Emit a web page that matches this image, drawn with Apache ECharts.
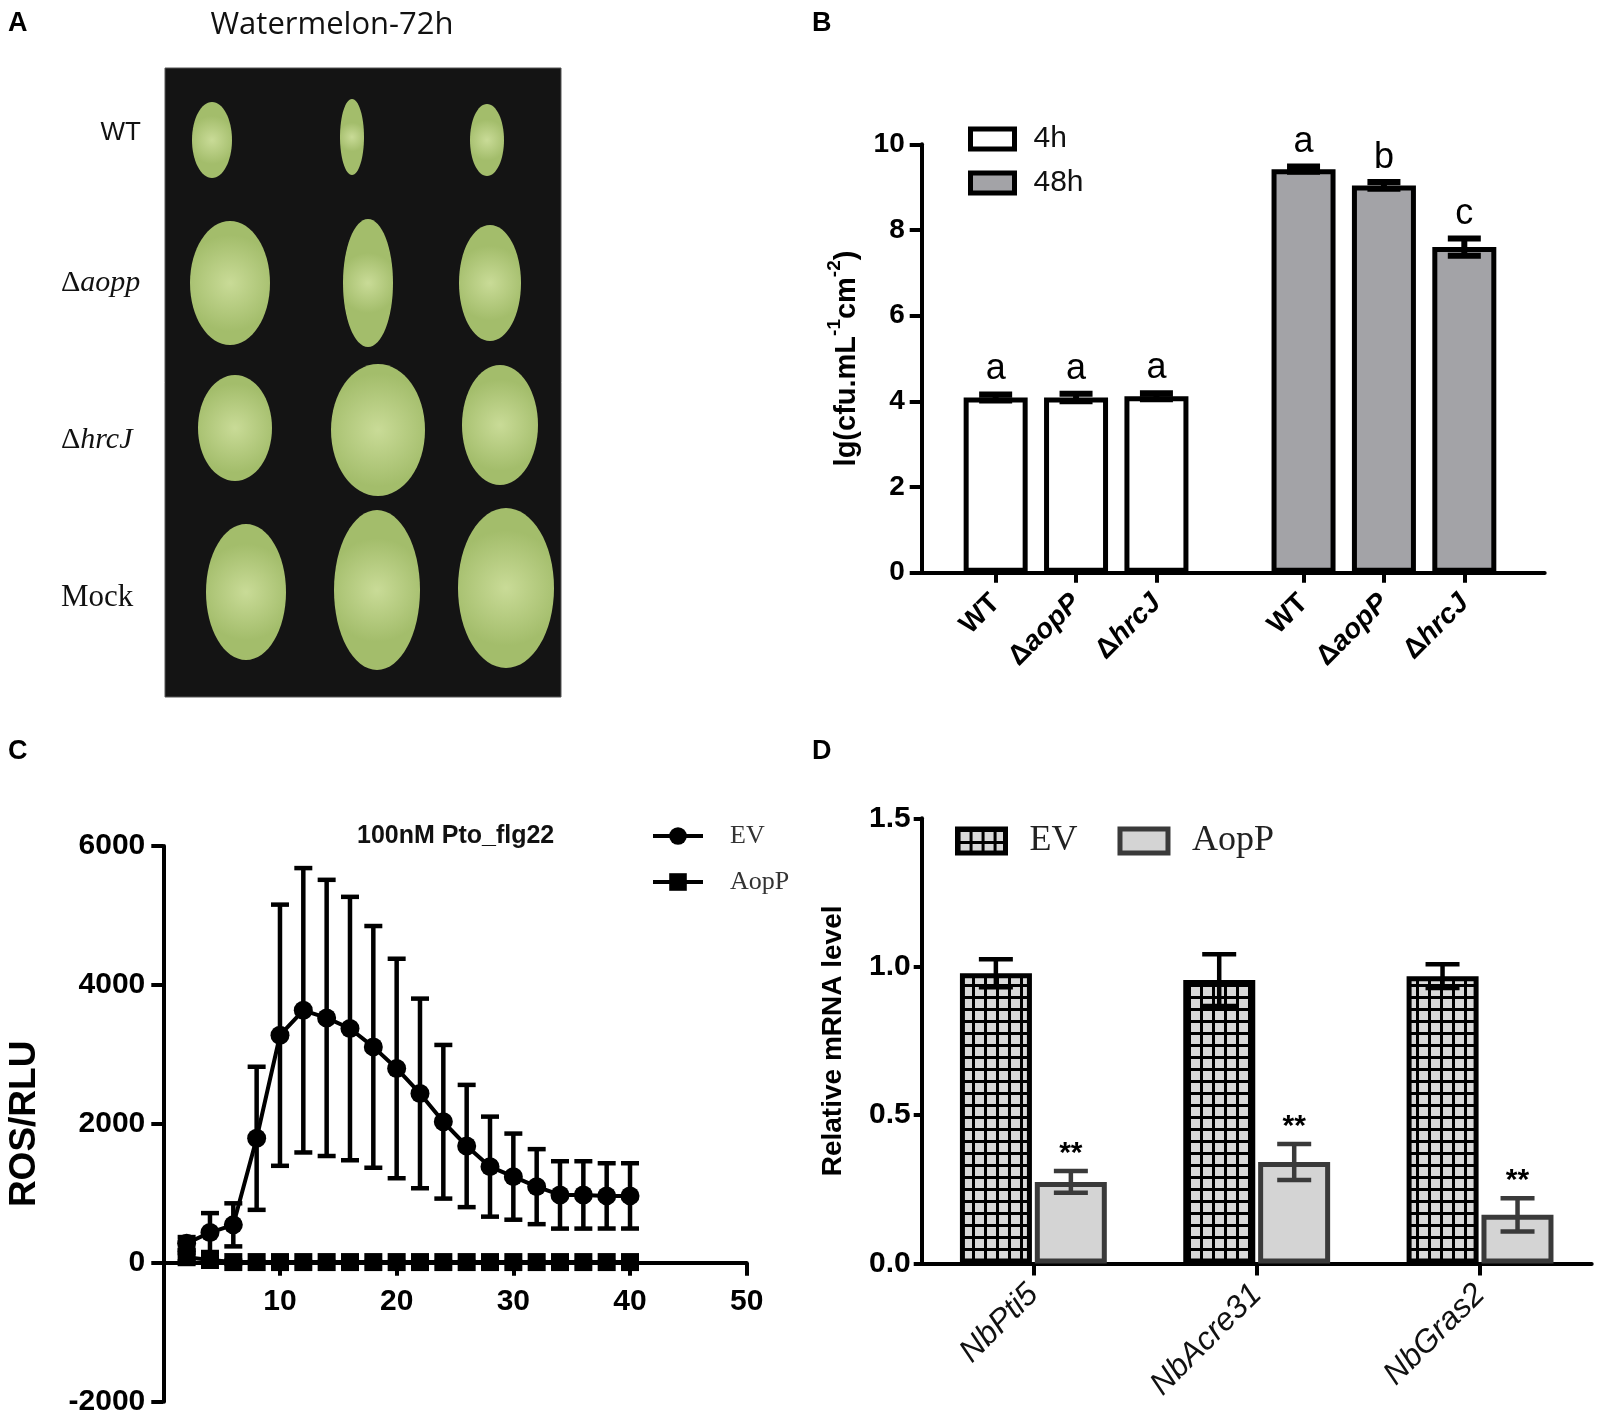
<!DOCTYPE html>
<html>
<head>
<meta charset="utf-8">
<script src="https://cdn.jsdelivr.net/npm/echarts@6/dist/echarts.min.js"></script>
<style>
html,body{margin:0;padding:0;background:#fff;}
#chart{width:1600px;height:1425px;}
</style>
</head>
<body>
<div id="chart"></div>
<script>
// ---------------- DATA ----------------
// Panel B
const bLabels = ['WT', 'ΔaopP', 'ΔhrcJ', 'WT', 'ΔaopP', 'ΔhrcJ'];
const bPositions = [0.92, 1.92, 2.92, 4.75, 5.75, 6.75];
const b4hValues = [4.09, 4.09, 4.12];
const b4hErrors = [0.07, 0.09, 0.07];
const b48hValues = [9.42, 9.04, 7.60];
const b48hErrors = [0.06, 0.08, 0.20];
const b4hLetters = ['a', 'a', 'a'];
const b48hLetters = ['a', 'b', 'c'];

// Panel C
const cTimes = [2, 4, 6, 8, 10, 12, 14, 16, 18, 20, 22, 24, 26, 28, 30, 32, 34, 36, 38, 40];
const cEV = [280, 435, 546, 1792, 3276, 3635, 3525, 3372, 3108, 2797, 2438, 2030, 1681, 1384, 1240, 1096, 977, 977, 963, 963];
const cEVErr = [90, 280, 310, 1030, 1880, 2047, 1988, 1896, 1740, 1580, 1365, 1106, 880, 720, 620, 540, 485, 485, 470, 470];
const cAopP = [80, 40, 10, 10, 10, 10, 10, 10, 10, 10, 10, 10, 10, 10, 10, 10, 10, 10, 10, 10];
const cAopPErr = [60, 40, 20, 0, 0, 0, 0, 0, 0, 0, 0, 0, 0, 0, 0, 0, 0, 0, 0, 0];
const cXTicks = [10, 20, 30, 40, 50];

// Panel D
const dCategories = ['NbPti5', 'NbAcre31', 'NbGras2'];
const dEV = [0.978, 0.955, 0.968];
const dEVErr = [0.047, 0.087, 0.040];
const dAopP = [0.275, 0.342, 0.164];
const dAopPErr = [0.037, 0.061, 0.056];
const dSig = ['**', '**', '**'];

// ---------------- HELPERS ----------------
const SANS = '"Liberation Sans", Arial, sans-serif';
const SERIF = '"Liberation Serif", "Times New Roman", serif';

function makeGridPattern() {
  const c = document.createElement('canvas');
  c.width = 12; c.height = 12;
  const g = c.getContext('2d');
  g.fillStyle = '#d9d9d9';
  g.fillRect(0, 0, 12, 12);
  g.fillStyle = '#000';
  g.fillRect(0, 0, 12, 3);
  g.fillRect(0, 0, 3, 12);
  return c;
}

function errorBarRender(capWidth, lineWidth, color, offsetPx, labels, gap, font) {
  return function (params, api) {
    const x = api.value(0), y = api.value(1), e = api.value(2);
    const hi = api.coord([x, y + e]);
    const lo = api.coord([x, y - e]);
    const cx = hi[0] + offsetPx;
    const st = { stroke: color, lineWidth: lineWidth };
    const children = [
      { type: 'line', shape: { x1: cx, y1: hi[1], x2: cx, y2: lo[1] }, style: st },
      { type: 'line', shape: { x1: cx - capWidth / 2, y1: hi[1], x2: cx + capWidth / 2, y2: hi[1] }, style: st },
      { type: 'line', shape: { x1: cx - capWidth / 2, y1: lo[1], x2: cx + capWidth / 2, y2: lo[1] }, style: st }
    ];
    if (labels) {
      children.push({
        type: 'text',
        style: { text: labels[params.dataIndex], x: cx, y: hi[1] - gap, align: 'center', verticalAlign: 'middle', font: font, fill: '#000' }
      });
    }
    return { type: 'group', children: children };
  };
}

function bLabelFormatter(v) {
  let idx = 0;
  for (let i = 0; i < bPositions.length; i++) if (Math.abs(bPositions[i] - v) < 1e-6) idx = i;
  const t = bLabels[idx];
  if (t.charAt(0) === 'Δ') return '{b|Δ}{bi|' + t.slice(1) + '}';
  return '{b|' + t + '}';
}

// ---------------- PANEL A (photo placeholder) ----------------
const leafColor = new echarts.graphic.RadialGradient(0.5, 0.5, 0.6, [
  { offset: 0, color: '#c9db97' }, { offset: 1, color: '#a3bd6b' }
]);
const leafShapes = [
  [212, 140, 20, 38], [352, 137, 12, 38], [487, 140, 17, 36],
  [230, 283, 40, 62], [368, 283, 25, 64], [490, 283, 31, 58],
  [235, 428, 37, 53], [378, 430, 47, 66], [500, 425, 38, 60],
  [246, 592, 40, 68], [377, 590, 43, 80], [506, 588, 48, 80]
];
const graphicEls = [
  { type: 'text', left: 8, top: 10, style: { text: 'A', font: 'bold 27px ' + SANS, fill: '#000' } },
  { type: 'text', left: 8, top: 738, style: { text: 'C', font: 'bold 27px ' + SANS, fill: '#000' } },
  { type: 'text', left: 812, top: 10, style: { text: 'B', font: 'bold 27px ' + SANS, fill: '#000' } },
  { type: 'text', left: 812, top: 738, style: { text: 'D', font: 'bold 27px ' + SANS, fill: '#000' } },
  { type: 'text', x: 332, y: 25, style: { text: 'Watermelon-72h', font: '31px "Open Sans", ' + SANS, fill: '#111', align: 'center', verticalAlign: 'middle' } },
  { type: 'rect', shape: { x: 165, y: 68, width: 396, height: 629 }, style: { fill: '#141414', stroke: '#555', lineWidth: 1 } },
  { type: 'text', x: 141, y: 133, style: { text: 'WT', font: '26px ' + SANS, fill: '#111', align: 'right', verticalAlign: 'middle' } },
  { type: 'text', x: 61, y: 283, style: { text: '{u|Δ}{i|aopp}', rich: { u: { font: '30px ' + SERIF, fill: '#111' }, i: { font: 'italic 30px ' + SERIF, fill: '#111' } }, verticalAlign: 'middle' } },
  { type: 'text', x: 61, y: 440, style: { text: '{u|Δ}{i|hrcJ}', rich: { u: { font: '30px ' + SERIF, fill: '#111' }, i: { font: 'italic 30px ' + SERIF, fill: '#111' } }, verticalAlign: 'middle' } },
  { type: 'text', x: 61, y: 598, style: { text: 'Mock', font: '31px ' + SERIF, fill: '#111', verticalAlign: 'middle' } }
];
leafShapes.forEach(function (s) {
  graphicEls.push({ type: 'ellipse', shape: { cx: s[0], cy: s[1], rx: s[2], ry: s[3] }, style: { fill: leafColor }, z: 101 });
});

// ---------------- CHART ----------------
const chart = echarts.init(document.getElementById('chart'), null, { renderer: 'canvas' });
const axisLineStyle = { color: '#000', width: 4 };
const gridPattern = makeGridPattern();

const cGridTop = 846, cGridHeight = 555.7;
const cYMin = -2000, cYMax = 6000;
// offset that moves the bottom x axis up to y = 0 of the value axis
const cXOffset = -(0 - cYMin) / (cYMax - cYMin) * cGridHeight;

const option = {
  backgroundColor: '#fff',
  animation: false,
  graphic: graphicEls,
  title: [{
    text: '100nM Pto_flg22', left: 352, top: 819,
    textStyle: { fontFamily: SANS, fontWeight: 'bold', fontSize: 25, color: '#111' }
  }],
  grid: [
    { left: 921.7, top: 144.3, width: 623, height: 428.4, outerBoundsMode: 'none' },
    { left: 163.3, top: cGridTop, width: 583.4, height: cGridHeight, outerBoundsMode: 'none' },
    { left: 921.7, top: 818.3, width: 670, height: 445.2, outerBoundsMode: 'none' }
  ],
  legend: [
    {
      data: ['4h', '48h'], orient: 'vertical', left: 963, top: 119, itemWidth: 44, itemHeight: 20, itemGap: 14,
      icon: 'rect', itemStyle: { borderWidth: 5, borderColor: '#000' },
      textStyle: { fontFamily: SANS, fontSize: 30, color: '#111', padding: [0, 0, 0, 14] }, selectedMode: false
    },
    {
      data: ['EV', 'AopP'], orient: 'vertical', left: 646, top: 818, itemWidth: 50, itemHeight: 22, itemGap: 20,
      lineStyle: { width: 4, color: '#000' },
      textStyle: { fontFamily: SERIF, fontSize: 26, color: '#333', padding: [0, 0, 0, 22] }, selectedMode: false
    },
    {
      data: ['EV_D', 'AopP_D'], orient: 'horizontal', left: 950, top: 818, itemWidth: 48, itemHeight: 24, itemGap: 40,
      icon: 'rect', itemStyle: { borderWidth: 5 },
      formatter: function (n) { return n.replace('_D', ''); },
      textStyle: { fontFamily: SERIF, fontSize: 36, color: '#222', padding: [0, 0, 0, 19] }, selectedMode: false
    }
  ],
  xAxis: [
    {
      gridIndex: 0, type: 'value', min: 0, max: 7.75,
      splitLine: { show: false },
      axisLine: { show: true, lineStyle: axisLineStyle },
      axisTick: { show: true, customValues: bPositions, length: 10, lineStyle: { width: 4, color: '#000' } },
      axisLabel: {
        customValues: bPositions, formatter: bLabelFormatter, rotate: 45, margin: 26,
        rich: {
          b: { fontFamily: SANS, fontWeight: 'bold', fontSize: 28, color: '#000' },
          bi: { fontFamily: SANS, fontWeight: 'bold', fontStyle: 'italic', fontSize: 28, color: '#000' }
        }
      }
    },
    {
      gridIndex: 1, type: 'value', min: 0, max: 50, position: 'bottom', offset: cXOffset,
      splitLine: { show: false },
      axisLine: { show: true, onZero: false, lineStyle: axisLineStyle },
      axisTick: { show: true, customValues: cXTicks, length: 13, lineStyle: { width: 4, color: '#000' } },
      axisLabel: { customValues: cXTicks, margin: 24, fontFamily: SANS, fontWeight: 'bold', fontSize: 30, color: '#000' }
    },
    {
      gridIndex: 2, type: 'category', data: dCategories,
      axisLine: { show: true, lineStyle: axisLineStyle },
      axisTick: { show: true, alignWithLabel: true, length: 12, lineStyle: { width: 4, color: '#000' } },
      axisLabel: { rotate: 45, margin: 26, fontFamily: SANS, fontStyle: 'italic', fontSize: 32, color: '#111', interval: 0 }
    }
  ],
  yAxis: [
    {
      gridIndex: 0, type: 'value', min: 0, max: 10, interval: 2,
      splitLine: { show: false },
      axisLine: { show: true, lineStyle: axisLineStyle },
      axisTick: { show: true, length: 12, lineStyle: { width: 4, color: '#000' } },
      axisLabel: { margin: 17, fontFamily: SANS, fontWeight: 'bold', fontSize: 28, color: '#000' },
      name: '{m|lg(cfu.mL}{s|-1}{m|cm}{s|-2}{m|)}', nameLocation: 'middle', nameRotate: 90, nameGap: 60,
      nameTextStyle: {
        rich: {
          m: { fontFamily: SANS, fontWeight: 'bold', fontSize: 29, color: '#000', lineHeight: 36, verticalAlign: 'bottom' },
          s: { fontFamily: SANS, fontWeight: 'bold', fontSize: 19, color: '#000', lineHeight: 36, verticalAlign: 'top' }
        }
      }
    },
    {
      gridIndex: 1, type: 'value', min: cYMin, max: cYMax, interval: 2000,
      splitLine: { show: false },
      axisLine: { show: true, lineStyle: axisLineStyle },
      axisTick: { show: true, length: 12, lineStyle: { width: 4, color: '#000' } },
      axisLabel: { margin: 18, fontFamily: SANS, fontWeight: 'bold', fontSize: 30, color: '#000', formatter: function (v) { return String(v); } },
      name: 'ROS/RLU', nameLocation: 'middle', nameRotate: 90, nameGap: 120,
      nameTextStyle: { fontFamily: SANS, fontWeight: 'bold', fontSize: 37, color: '#000' }
    },
    {
      gridIndex: 2, type: 'value', min: 0, max: 1.5, interval: 0.5,
      splitLine: { show: false },
      axisLine: { show: true, lineStyle: axisLineStyle },
      axisTick: { show: true, length: 8, lineStyle: { width: 4, color: '#000' } },
      axisLabel: { margin: 11, fontFamily: SANS, fontWeight: 'bold', fontSize: 30, color: '#000', formatter: function (v) { return v.toFixed(1); } },
      name: 'Relative mRNA level', nameLocation: 'middle', nameRotate: 90, nameGap: 74,
      nameTextStyle: { fontFamily: SANS, fontWeight: 'bold', fontSize: 28, color: '#000' }
    }
  ],
  series: [
    // Panel B
    {
      name: '4h', type: 'bar', xAxisIndex: 0, yAxisIndex: 0, barWidth: 64, barGap: '-100%',
      data: b4hValues.map(function (v, i) { return [bPositions[i], v]; }),
      itemStyle: { color: '#ffffff', borderColor: '#000', borderWidth: 5 }
    },
    {
      name: '48h', type: 'bar', xAxisIndex: 0, yAxisIndex: 0, barWidth: 64, barGap: '-100%',
      data: b48hValues.map(function (v, i) { return [bPositions[i + 3], v]; }),
      itemStyle: { color: '#a3a3a7', borderColor: '#000', borderWidth: 5 }
    },
    {
      name: 'b4hErr', type: 'custom', xAxisIndex: 0, yAxisIndex: 0, z: 5,
      data: b4hValues.map(function (v, i) { return [bPositions[i], v, b4hErrors[i]]; }),
      renderItem: errorBarRender(33, 6, '#000', 0, b4hLetters, 25, '36px ' + SANS)
    },
    {
      name: 'b48hErr', type: 'custom', xAxisIndex: 0, yAxisIndex: 0, z: 5,
      data: b48hValues.map(function (v, i) { return [bPositions[i + 3], v, b48hErrors[i]]; }),
      renderItem: errorBarRender(33, 6, '#000', 0, b48hLetters, 24, '36px ' + SANS)
    },
    // Panel C
    {
      name: 'cEVErr', type: 'custom', xAxisIndex: 1, yAxisIndex: 1, z: 3,
      data: cEV.map(function (v, i) { return [cTimes[i], v, cEVErr[i]]; }),
      renderItem: errorBarRender(18, 4.5, '#000', 0)
    },
    {
      name: 'cAopPErr', type: 'custom', xAxisIndex: 1, yAxisIndex: 1, z: 3,
      data: cAopP.map(function (v, i) { return [cTimes[i], v, cAopPErr[i]]; }),
      renderItem: errorBarRender(18, 4.5, '#000', 0)
    },
    {
      name: 'EV', type: 'line', xAxisIndex: 1, yAxisIndex: 1, z: 4,
      data: cEV.map(function (v, i) { return [cTimes[i], v]; }),
      symbol: 'circle', symbolSize: 19,
      lineStyle: { color: '#000', width: 4 }, itemStyle: { color: '#000' }
    },
    {
      name: 'AopP', type: 'line', xAxisIndex: 1, yAxisIndex: 1, z: 4,
      data: cAopP.map(function (v, i) { return [cTimes[i], v]; }),
      symbol: 'rect', symbolSize: 18,
      lineStyle: { color: '#000', width: 4 }, itemStyle: { color: '#000' }
    },
    // Panel D
    {
      name: 'EV_D', type: 'bar', xAxisIndex: 2, yAxisIndex: 2, barWidth: 72, barGap: '4%',
      data: dEV,
      itemStyle: { color: { image: gridPattern, repeat: 'repeat' }, borderColor: '#000', borderWidth: 5 }
    },
    {
      name: 'AopP_D', type: 'bar', xAxisIndex: 2, yAxisIndex: 2, barWidth: 72, barGap: '4%',
      data: dAopP,
      itemStyle: { color: '#d4d4d4', borderColor: '#3a3a3a', borderWidth: 5 }
    },
    {
      name: 'dEVErr', type: 'custom', xAxisIndex: 2, yAxisIndex: 2, z: 5,
      data: dEV.map(function (v, i) { return [i, v, dEVErr[i]]; }),
      renderItem: errorBarRender(34, 4.5, '#000', -37.5)
    },
    {
      name: 'dAopPErr', type: 'custom', xAxisIndex: 2, yAxisIndex: 2, z: 5,
      data: dAopP.map(function (v, i) { return [i, v, dAopPErr[i]]; }),
      renderItem: errorBarRender(34, 4.5, '#3a3a3a', 37.5, dSig, 17, 'bold 30px ' + SANS)
    }
  ]
};
chart.setOption(option);
</script>
</body>
</html>
